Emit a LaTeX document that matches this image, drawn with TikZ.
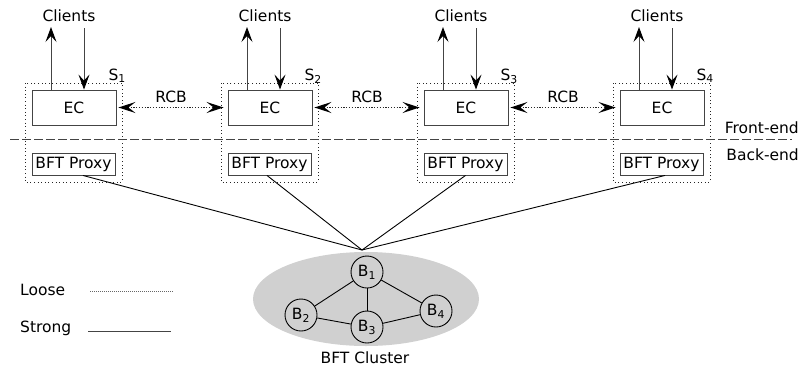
\documentclass[tikz,border=0pt]{standalone}
\usepackage{fontspec}
\setmainfont{DejaVu Sans}
\usetikzlibrary{arrows.meta,calc,shapes.geometric}

\definecolor{edge}{HTML}{444444}
\definecolor{cloud}{HTML}{D0D0D0}

\tikzset{
  lbl/.style={font=\fontsize{15.5}{18}\selectfont, inner sep=0pt, text=black},
  ecbox/.style={draw=edge, line width=0.9pt, minimum width=84pt, minimum height=35pt, inner sep=0pt, lbl},
  pxbox/.style={draw=edge, line width=0.9pt, minimum width=83pt, minimum height=22pt, inner sep=0pt, lbl},
  sitebox/.style={draw=black!85, line width=1pt, dash pattern=on 1pt off 2.6pt},
  cli/.style={draw=edge, line width=0.9pt, -{Stealth[length=15pt,width=11pt,inset=6pt,black]}},
  rcb/.style={draw=black!85, line width=1.3pt, dash pattern=on 1.2pt off 1.6pt,
    {Stealth[length=17pt,width=11pt,inset=7pt,black]}-{Stealth[length=17pt,width=11pt,inset=7pt,black]}},
  strong/.style={draw=black, line width=0.9pt},
  bnode/.style={circle, draw=black, line width=0.9pt, minimum size=32pt, inner sep=0pt, lbl},
}

\begin{document}
\begin{tikzpicture}[x=1pt,y=-1pt]
\useasboundingbox (0,0) rectangle (799,370);

% four replica sites: edge cache over BFT proxy
\foreach \i/\o in {1/25, 2/221, 3/417, 4/613} {
  \draw[sitebox] (\o,83) rectangle (\o+97,182);
  \node[ecbox] (ec\i) at (\o+49,107.5) {EC};
  \node[pxbox] (px\i) at (\o+48.5,164) {BFT Proxy};
  \node[lbl] (cl\i) at (\o+44,16) {Clients};
  \node[lbl, anchor=base east] (s\i) at (\o+101,80) {S\textsubscript{\i}};
  \coordinate (up\i) at (\o+26,27);
  \coordinate (dn\i) at (\o+59,28);
  \draw[cli] (ec\i.north -| up\i) -- (up\i);
  \draw[cli] (dn\i) -- (ec\i.north -| dn\i);
}

% replica coordination between neighbouring edge caches
\foreach \a/\b in {1/2, 2/3, 3/4} {
  \draw[rcb] ([xshift=2pt]ec\a.east) -- ([xshift=-4pt]ec\b.west)
    node[lbl, midway, anchor=south, yshift=4pt] (rcb\a) {RCB};
}

% front-end / back-end split
\coordinate (splitL) at (10,139);
\coordinate (splitR) at (792,139);
\draw[draw=edge, line width=0.9pt, dash pattern=on 9pt off 3pt] (splitL) -- (splitR);
\node[lbl, anchor=east] (fe) at (799,128) {Front-end};
\node[lbl, anchor=east] (be) at (799,155) {Back-end};

% BFT cluster
\node[ellipse, fill=cloud, minimum width=226pt, minimum height=94pt, inner sep=0pt] (cluster) at (366,299) {};
\node[bnode] (b1) at (367,272) {B\textsubscript{1}};
\node[bnode] (b2) at (301,315) {B\textsubscript{2}};
\node[bnode] (b3) at (367,327) {B\textsubscript{3}};
\node[bnode] (b4) at (436,311) {B\textsubscript{4}};
\draw[strong] (b1) -- (b2);
\draw[strong] (b1) -- (b3);
\draw[strong] (b1) -- (b4);
\draw[strong] (b2) -- (b3);
\draw[strong] (b3) -- (b4);
\node[lbl] (clabel) at (365,358) {BFT Cluster};

% proxies to the cluster
\coordinate (hub) at (362,250);
\draw[strong] ([xshift=9.5pt]px1.south) -- (hub);
\draw[strong] ([xshift=-2.5pt]px2.south) -- (hub);
\draw[strong] (px3.south) -- (hub);
\draw[strong] ([xshift=3.5pt]px4.south) -- (hub);

% legend
\node[lbl, anchor=west] (loose) at (20,290) {Loose};
\node[lbl, anchor=west] (strongl) at (20,328) {Strong};
\coordinate (l1) at (90,291);
\coordinate (l2) at (173,291);
\coordinate (s1) at (88,331);
\coordinate (s2) at (171,331);
\draw[draw=black!60, line width=0.8pt, dash pattern=on 0.8pt off 1.2pt] (l1) -- (l2);
\draw[draw=edge, line width=0.9pt] (s1) -- (s2);
\end{tikzpicture}
\end{document}
